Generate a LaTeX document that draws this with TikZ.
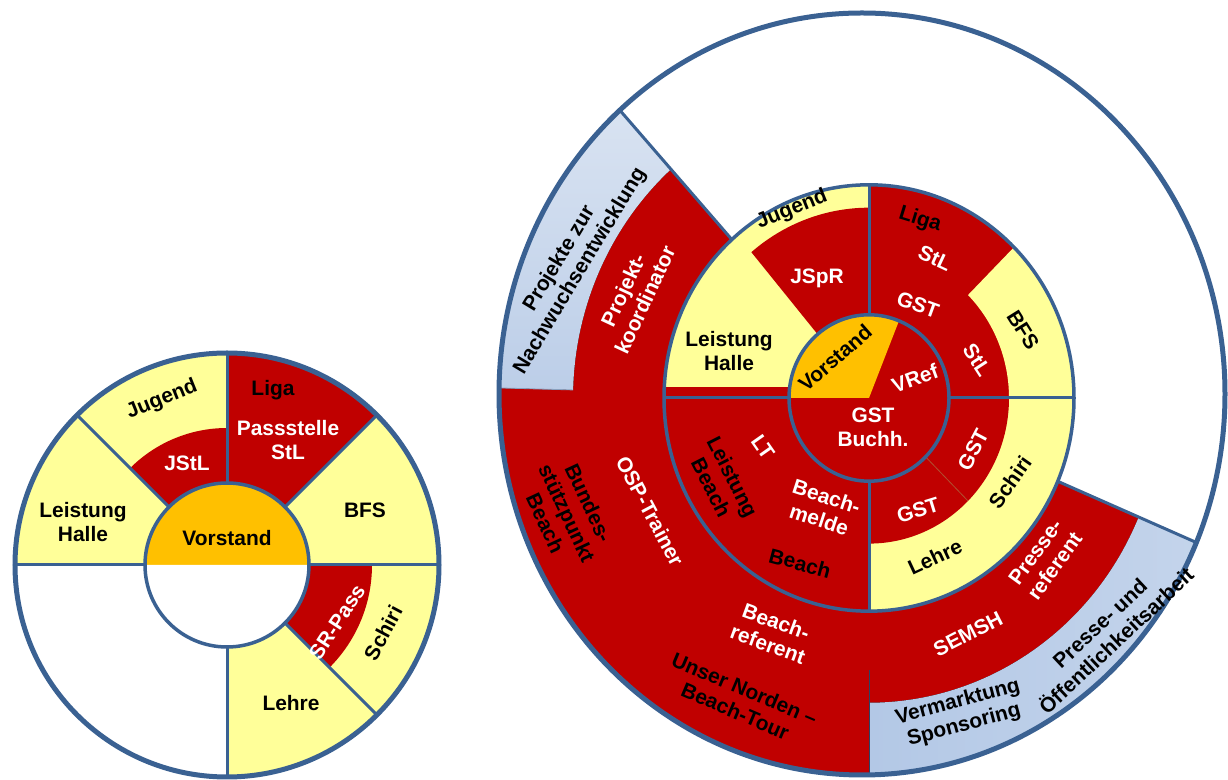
\documentclass[tikz,border=0pt]{standalone}
\usepackage{fontspec}
\setmainfont{Liberation Sans}
\definecolor{cred}{HTML}{C00000}
\definecolor{cyel}{HTML}{FFFF99}
\definecolor{corg}{HTML}{FFC000}
\definecolor{cline}{HTML}{3A6192}
\definecolor{cbluetop}{HTML}{E4EBF5}
\definecolor{cbluebot}{HTML}{BCCEE8}
\definecolor{cbluelr}{HTML}{B3C8E6}
\definecolor{cbrown}{HTML}{B05030}
\newcommand\piesec[4]{\fill[#1] (0,0) -- (#2:#4) arc[start angle=#2,end angle=#3,radius=#4] -- cycle;}
\newcommand\ringsec[5]{\fill[#1] (#2:#4) arc[start angle=#2,end angle=#3,radius=#4] -- (#3:#5) arc[start angle=#3,end angle=#2,radius=#5] -- cycle;}
\tikzset{
  lbl/.style={font=\bfseries\fontsize{21}{24}\selectfont, align=center, inner sep=0pt},
  wt/.style={lbl,text=white},
  bk/.style={lbl,text=black},
  ringline/.style={draw=cline,line width=3.5bp},
  outerring/.style={draw=cline,line width=5bp},
  spoke/.style={draw=cline,line width=3bp},
}
\begin{document}
\begin{tikzpicture}[x=1bp,y=1bp]
\useasboundingbox (0,0) rectangle (1228,780);
% ---------------- left wheel
\begin{scope}[shift={(227,215)}]
  \piesec{cyel}{0}{180}{212}
  \piesec{cred}{45}{90}{212}
  \piesec{cred}{90}{135}{137}
  \piesec{cyel}{-90}{0}{212}
  \piesec{cred}{-45}{0}{145}
  \piesec{corg}{0}{180}{82}
  \piesec{white}{180}{360}{82}
  \draw[outerring] (0,0) circle[radius=212];
  \draw[ringline] (0,0) circle[radius=82];
  \foreach \a in {0,45,90,135,180,-45,-90} \draw[spoke] (\a:82) -- (\a:212);
\end{scope}
% ---------------- right wheel, outer parts
\begin{scope}
  \clip (862,386) ellipse[x radius=363,y radius=381];
  \begin{scope}[shift={(869,382)},yscale=1.04]
    \piesec{cred}{132}{337}{520}
    \fill[top color=cbluetop,bottom color=cbluebot] (132:296) -- (132:520) arc[start angle=132,end angle=178.5,radius=520] -- (178.5:296) arc[start angle=178.5,end angle=132,radius=296] -- cycle;
    \fill[left color=cbluelr,right color=cbluetop!50!cbluelr] (270:293) -- (270:520) arc[start angle=270,end angle=337,radius=520] -- (337:293) arc[start angle=337,end angle=270,radius=293] -- cycle;
    \draw[cline!60, line width=0.8bp] (178.5:296) -- (178.5:520);
    \draw[cline!70!black, line width=0.8bp] (270:262) -- (270:520);
    \draw[spoke] (132:205) -- (132:520);
    \draw[spoke] (337:205) -- (337:520);
  \end{scope}
\end{scope}
\draw[outerring] (862,386) ellipse[x radius=363,y radius=381];
% ---------------- right wheel, inner parts
\begin{scope}[shift={(869,382)},yscale=1.04]
  \piesec{cyel}{90}{180}{205}
  \piesec{cred}{90}{130}{183}
  \fill[cred] (-205.5,0) rectangle (-75,10.5);
  \piesec{cred}{0}{90}{205}
  \ringsec{cyel}{0}{45}{140}{205}
  \piesec{cyel}{270}{360}{205}
  \piesec{cred}{270}{360}{140}
  \piesec{cred}{180}{270}{205}
  \fill[cred] (0,0) circle[radius=80];
  \piesec{corg}{68}{180}{80}
  \draw[cbrown, line width=0.8bp] (-45:80) -- (-45:140);
  \foreach \a in {0,90,180,270} \draw[spoke] (\a:80) -- (\a:205);
  \draw[ringline] (0,0) circle[radius=205];
  \draw[ringline] (0,0) circle[radius=80];
\end{scope}
% ---------------- labels (image coordinates)
\begin{scope}[y=-1bp,yshift=780bp]
  % left
  \node[bk,rotate=22] (jugL) at (162,400) {Jugend};
  \node[wt] (jstl) at (187,463) {JStL};
  \node[bk] (ligaL) at (273,390) {Liga};
  \node[wt] (passL) at (288,440) {Passstelle\\StL};
  \node[bk] (leihL) at (83,522) {Leistung\\Halle};
  \node[bk] (vorL) at (227,538) {Vorstand};
  \node[bk] (bfsL) at (365,510) {BFS};
  \node[wt,rotate=57] (srp) at (337,622) {SR-Pass};
  \node[bk,rotate=62] (schL) at (383,633) {Schiri};
  \node[bk] (lehL) at (291,703) {Lehre};
  % right
  \node[bk,rotate=22] (jugR) at (792,210) {Jugend};
  \node[wt] (jspr) at (817,278) {JSpR};
  \node[bk] (leihR) at (729,351) {Leistung\\Halle};
  \node[bk,rotate=41] (vorR) at (835,358) {Vorstand};
  \node[bk,rotate=-17] (ligaR) at (920,220) {Liga};
  \node[wt,rotate=-25] (stlA) at (935,258) {StL};
  \node[wt,rotate=-20] (gstA) at (918,305) {GST};
  \node[wt,rotate=-57] (stlB) at (977,360) {StL};
  \node[bk,rotate=-58] (bfsR) at (1023,330) {BFS};
  \node[wt,rotate=20] (vref) at (915,378) {VRef};
  \node[wt] (gstb) at (873,427) {GST\\Buchh.};
  \node[wt,rotate=-55] (lt) at (763,447) {LT};
  \node[bk,rotate=-63] (leib) at (722,482) {Leistung\\Beach};
  \node[wt,rotate=-18] (bmel) at (823,508) {Beach-\\melde};
  \node[bk,rotate=-15] (beach) at (800,563) {Beach};
  \node[wt,rotate=62] (gstC) at (973,450) {GST};
  \node[wt,rotate=17] (gstD) at (918,510) {GST};
  \node[bk,rotate=55] (schR) at (1010,482) {Schiri};
  \node[bk,rotate=25] (lehR) at (935,557) {Lehre};
  \node[bk,rotate=59] (proj) at (570,265) {Projekte zur\\Nachwuchsentwicklung};
  \node[wt,rotate=65] (pkoord) at (634,295) {Projekt-\\koordinator};
  \node[bk,rotate=-65] (bsp) at (567,513) {Bundes-\\stützpunkt\\Beach};
  \node[wt,rotate=-62] (osp) at (650,511) {OSP-Trainer};
  \node[wt,rotate=-20] (bref) at (772,633) {Beach-\\referent};
  \node[bk,rotate=-23] (unb) at (740,700) {Unser Norden –\\Beach-Tour};
  \node[wt,rotate=54] (pref) at (1045,559) {Presse-\\referent};
  \node[wt,rotate=27] (semsh) at (968,634) {SEMSH};
  \node[bk,rotate=15] (verm) at (961,714) {Vermarktung\\Sponsoring};
  \node[bk,rotate=43] (poe) at (1108,632) {Presse- und\\Öffentlichkeitsarbeit};
\end{scope}
\end{tikzpicture}
\end{document}
